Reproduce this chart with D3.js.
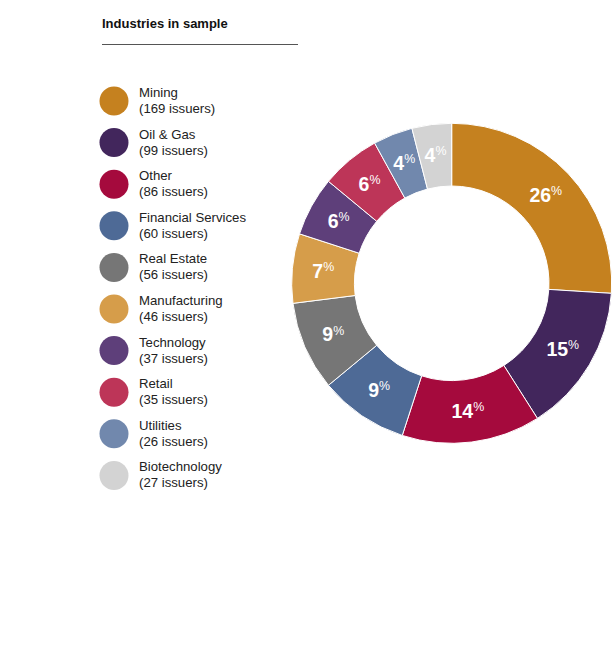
<!DOCTYPE html>
<html>
<head>
<meta charset="utf-8">
<script src="https://cdn.jsdelivr.net/npm/d3@7"></script>
<style>
  body { margin: 0; background: #fff; }
  text { font-family: "Liberation Sans", Arial, sans-serif; }
</style>
</head>
<body>
<div id="chart"></div>
<script>
// Data
const industries = ['Mining', 'Oil & Gas', 'Other', 'Financial Services', 'Real Estate',
  'Manufacturing', 'Technology', 'Retail', 'Utilities', 'Biotechnology'];
const issuers = [169, 99, 86, 60, 56, 46, 37, 35, 26, 27];
const shareLabels = [26, 15, 14, 9, 9, 7, 6, 6, 4, 4];
const colors = ['#c5811f', '#42265c', '#a50a3d', '#4e6a96', '#767676',
  '#d69d4a', '#5e3f7a', '#bd3558', '#7188ad', '#d3d3d3'];

function draw() {
  const dataset = industries.map((name, i) => ({
    name: name, value: issuers[i], share: shareLabels[i], color: colors[i]
  }));

  // Dimensions
  const dimensions = {
    width: 613,
    height: 655,
    cx: 451.7,
    cy: 283.3,
    outer: 160,
    inner: 97.3
  };

  const svg = d3.select('#chart')
    .append('svg')
    .attr('width', dimensions.width)
    .attr('height', dimensions.height);

  // Title
  svg.append('text')
    .attr('x', 102)
    .attr('y', 28)
    .attr('font-size', 13)
    .attr('font-weight', 'bold')
    .attr('fill', '#111')
    .text('Industries in sample');

  svg.append('line')
    .attr('x1', 102).attr('x2', 298)
    .attr('y1', 44.5).attr('y2', 44.5)
    .attr('stroke', '#555')
    .attr('stroke-width', 1);

  // Legend
  const legendY = d3.scaleLinear().domain([0, 1]).range([101, 142.6]);
  const legend = svg.append('g')
    .selectAll('g')
    .data(dataset)
    .join('g')
    .attr('transform', (d, i) => `translate(114,${legendY(i)})`);

  legend.append('circle')
    .attr('r', 14.5)
    .attr('fill', d => d.color);

  legend.append('text')
    .attr('x', 25)
    .attr('y', -4)
    .attr('font-size', 13.2)
    .attr('fill', '#222')
    .text(d => d.name);

  legend.append('text')
    .attr('x', 25)
    .attr('y', 12)
    .attr('font-size', 13.2)
    .attr('fill', '#222')
    .text(d => `(${d.value} issuers)`);

  // Donut (slices sized by the rounded shares shown on the ring)
  const pie = d3.pie().sort(null).value(d => d.share);
  const arc = d3.arc().innerRadius(dimensions.inner).outerRadius(dimensions.outer);
  const labelArc = d3.arc().innerRadius(129).outerRadius(129);

  const ctr = svg.append('g')
    .attr('transform', `translate(${dimensions.cx},${dimensions.cy})`);

  const arcs = pie(dataset);

  ctr.selectAll('path')
    .data(arcs)
    .join('path')
    .attr('d', arc)
    .attr('fill', d => d.data.color)
    .attr('stroke', '#fff')
    .attr('stroke-width', 1);

  const labels = ctr.selectAll('g.pct')
    .data(arcs)
    .join('g')
    .attr('class', 'pct')
    .attr('transform', d => {
      const [x, y] = labelArc.centroid(d);
      return `translate(${x},${y})`;
    });

  labels.append('text')
    .attr('class', 'num')
    .attr('y', 6.8)
    .attr('fill', '#fff')
    .attr('font-weight', 'bold')
    .attr('font-size', 19.5)
    .text(d => d.data.share);

  labels.append('text')
    .attr('class', 'sym')
    .attr('y', 0)
    .attr('fill', '#fff')
    .attr('font-size', 12.4)
    .text('%');

  // center number + % together on the centroid
  labels.each(function () {
    const g = d3.select(this);
    const w1 = g.select('text.num').node().getComputedTextLength();
    const w2 = g.select('text.sym').node().getComputedTextLength();
    const x0 = -(w1 + w2) / 2;
    g.select('text.num').attr('x', x0);
    g.select('text.sym').attr('x', x0 + w1);
  });
}

draw();
</script>
</body>
</html>
